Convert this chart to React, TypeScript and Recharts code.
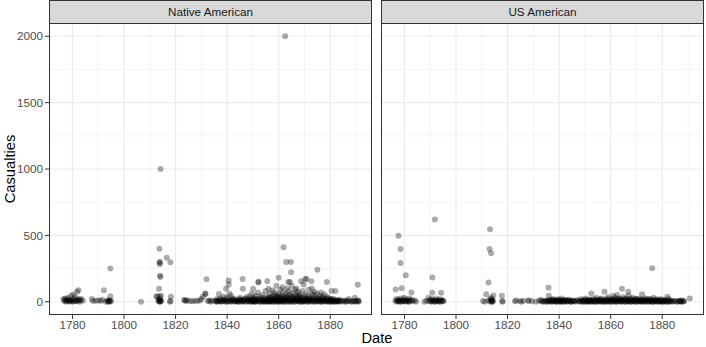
import { ScatterChart, Scatter, XAxis, YAxis, CartesianGrid } from 'recharts';

// casualties per engagement, [year, casualties]
const nativeAmerican: [number, number][] = [
  [1776.5, 20], [1777, 15], [1777.3, 25], [1777.8, 5], [1778, 10], [1778.3, 30], [1778.5, 17], [1779, 0],
  [1779.5, 45], [1779.6, 8], [1780, 12], [1780.3, 55], [1780.5, 20], [1780.8, 3], [1781, 35], [1781.3, 10],
  [1781.8, 75], [1782, 5], [1782.3, 87], [1782.5, 15], [1783, 12], [1783.5, 20], [1784, 8],
  [1776.8, 5], [1777.5, 0], [1778.8, 12], [1779.2, 5], [1780.2, 0], [1781.5, 8], [1782.2, 20], [1782.8, 0],
  [1787.5, 20], [1788, 5], [1789, 8], [1790, 10], [1791, 5], [1791.5, 15], [1792.2, 87], [1793, 0],
  [1793.5, 10], [1794, 5], [1794.4, 5], [1794.7, 42], [1794.7, 250], [1795, 8], [1793.8, 0], [1794.2, 10], [1794.6, 0],
  [1806.6, 0],
  [1812.5, 40], [1813, 42], [1813.3, 10], [1813.5, 5], [1813.6, 97], [1813.7, 400], [1813.8, 295],
  [1813.9, 282], [1813.9, 300], [1814, 195], [1814.1, 187], [1814, 37], [1814.2, 1000], [1814.3, 45],
  [1814.5, 8], [1814, 0], [1816.6, 332], [1818, 297], [1818.2, 37], [1818, 5], [1817.8, 0],
  [1813.8, 0], [1814, 12], [1814.2, 5], [1813.6, 20],
  [1823.3, 15], [1823.6, 10], [1824, 5], [1824.5, 12], [1825.5, 5], [1826.5, 3], [1827.5, 8], [1828.5, 5],
  [1829.5, 10], [1830, 20], [1830.6, 37], [1831.5, 62], [1831.6, 58], [1832, 170], [1832.5, 5], [1833, 10],
  [1833.5, 0], [1834, 8],
  [1835.2, 5], [1835.6, 12], [1835.9, 0], [1836.3, 20], [1836.8, 58], [1836.5, 3], [1837.2, 8], [1837.5, 25],
  [1837.9, 2], [1838.1, 15], [1838.6, 40], [1838.8, 5], [1839.3, 10], [1839.6, 97], [1839.9, 30], [1839.5, 0],
  [1840.2, 5], [1840.6, 160], [1840.6, 130], [1840.4, 20], [1840.9, 60], [1841.2, 0], [1841.5, 45], [1841.8, 12],
  [1842.2, 8], [1842.5, 25], [1842.9, 3], [1843.3, 15], [1843.7, 5], [1844.2, 0], [1844.6, 20], [1844.9, 10],
  [1845.1, 30], [1845.5, 2], [1845.8, 12], [1846, 172], [1846.1, 97], [1846.3, 5], [1846.7, 18], [1847.2, 0],
  [1847.5, 35], [1847.8, 10], [1848.1, 22], [1848.4, 5], [1848.8, 40], [1848.9, 0], [1849.2, 12], [1849.5, 60],
  [1849.8, 3], [1849.9, 25], [1850.1, 97], [1850.2, 8], [1850.5, 30], [1850.7, 0], [1850.9, 15], [1851.1, 45],
  [1851.3, 5], [1851.6, 20], [1851.9, 70], [1852.1, 145], [1852.2, 150], [1852.3, 10], [1852.6, 0], [1852.8, 35],
  [1853.2, 25], [1853.4, 5], [1853.7, 50], [1853.9, 12], [1854.1, 0], [1854.4, 30], [1854.7, 8], [1854.9, 80],
  [1855.2, 18], [1855.6, 155], [1855.5, 5], [1855.8, 40], [1855.9, 0], [1856.1, 97], [1856.3, 22], [1856.5, 60],
  [1856.8, 3], [1856.9, 12], [1857.1, 35], [1857.4, 0], [1857.6, 85], [1857.8, 15], [1857.9, 45], [1858.2, 8],
  [1858.4, 70], [1858.6, 25], [1858.8, 0], [1858.9, 50], [1859.1, 120], [1859.3, 10], [1859.5, 40], [1859.7, 2],
  [1859.9, 30], [1860, 180], [1860.1, 60], [1860.3, 15], [1860.5, 0], [1860.7, 90], [1860.9, 25], [1861.1, 45],
  [1861.3, 5], [1861.5, 110], [1861.7, 20], [1861.9, 410], [1861.8, 70], [1862.1, 0], [1862.3, 35], [1862.5, 2000],
  [1862.6, 12], [1862.8, 60], [1862.9, 300], [1863.1, 25], [1863.3, 100], [1863.5, 5], [1863.7, 148], [1863.8, 45],
  [1863.9, 80], [1864.1, 15], [1864.4, 148], [1864.5, 55], [1864.7, 300], [1864.8, 223], [1864.6, 0], [1864.9, 30],
  [1865.1, 120], [1865.3, 8], [1865.5, 65], [1865.7, 20], [1865.9, 40], [1866.1, 0], [1866.3, 90], [1866.5, 15],
  [1866.7, 50], [1866.9, 100], [1867.1, 30], [1867.3, 5], [1867.5, 75], [1867.7, 18], [1867.9, 45], [1868.1, 60],
  [1868.3, 10], [1868.7, 155], [1868.5, 35], [1868.9, 0], [1869.1, 25], [1869.4, 80], [1869.7, 130], [1869.6, 5],
  [1869.9, 40], [1870.3, 172], [1870.1, 12], [1870.5, 55], [1870.8, 172], [1870.9, 20], [1871.1, 0], [1871.4, 45],
  [1871.7, 90], [1871.9, 15], [1872.1, 30], [1872.4, 8], [1872.7, 155], [1872.8, 60], [1872.9, 100], [1873.1, 20],
  [1873.4, 50], [1873.7, 0], [1873.9, 75], [1874.2, 35], [1874.5, 10], [1874.8, 60], [1875, 240], [1875.2, 25],
  [1875.5, 5], [1875.8, 45], [1876.1, 15], [1876.4, 70], [1876.7, 0], [1876.9, 30], [1877.2, 40], [1877.5, 8],
  [1877.8, 55], [1878.1, 20], [1878.4, 5], [1878.7, 148], [1878.9, 35], [1879.2, 10], [1879.6, 25], [1879.9, 0],
  [1880.2, 15], [1880.5, 80], [1880.8, 5], [1881.2, 20], [1881.6, 0], [1882, 80], [1882.4, 10], [1882.8, 3],
  [1883.2, 5], [1883.6, 15], [1885.5, 0], [1886, 10], [1886.5, 5], [1887.2, 20], [1888, 2], [1889, 8],
  [1889.5, 30], [1890.2, 5], [1890.7, 128], [1891, 0], [1890.8, 10],
  [1836, 2], [1836.7, 10], [1837.4, 0], [1838.3, 6], [1839, 14], [1840, 0], [1840.8, 8], [1841.5, 3],
  [1842, 18], [1842.7, 0], [1843.5, 10], [1844, 4], [1844.5, 0], [1845.3, 15], [1846, 0], [1846.5, 8],
  [1847, 20], [1847.7, 2], [1848.3, 10], [1848.7, 15], [1849.3, 0], [1849.7, 6], [1850, 20], [1850.3, 2],
  [1850.8, 10], [1851, 0], [1851.5, 12], [1852, 4], [1852.5, 18], [1853, 0], [1853.5, 10], [1854, 15],
  [1854.3, 2], [1854.8, 8], [1855, 0], [1855.4, 22], [1855.7, 6], [1856, 12], [1856.4, 0], [1856.7, 30],
  [1857, 4], [1857.5, 18], [1858, 0], [1858.3, 12], [1858.7, 35], [1859, 6], [1859.4, 20], [1859.8, 0],
  [1860.2, 10], [1860.4, 40], [1860.8, 5], [1861, 15], [1861.4, 0], [1861.6, 28], [1862, 8], [1862.4, 18],
  [1862.7, 0], [1863, 40], [1863.4, 12], [1863.6, 0], [1864, 25], [1864.3, 6], [1864.7, 15], [1865, 0],
  [1865.2, 35], [1865.6, 10], [1866, 22], [1866.4, 0], [1866.8, 8], [1867, 15], [1867.4, 40], [1867.8, 2],
  [1868, 20], [1868.4, 0], [1868.8, 12], [1869, 5], [1869.3, 30], [1869.8, 0], [1870, 15], [1870.4, 5],
  [1870.7, 25], [1871, 10], [1871.3, 0], [1871.6, 20], [1872, 5], [1872.3, 15], [1872.6, 0], [1873, 10],
  [1873.3, 25], [1873.6, 3], [1874, 12], [1874.4, 0], [1874.7, 20], [1875, 6], [1875.4, 15], [1875.7, 0],
  [1876, 25], [1876.3, 5], [1876.6, 12], [1877, 0], [1877.3, 18], [1877.7, 5], [1878, 10], [1878.5, 0],
  [1878.8, 22], [1879, 4], [1879.4, 12], [1879.7, 0], [1880, 8], [1880.4, 20], [1880.7, 0], [1881, 10],
  [1881.4, 3], [1881.8, 15], [1882.2, 0], [1882.6, 8], [1883, 2], [1883.4, 10], [1884, 0], [1884.5, 5],
  [1885, 8], [1886.3, 0], [1887.5, 5], [1888.5, 0], [1889.2, 3], [1890, 0], [1891, 5],
];

const usAmerican: [number, number][] = [
  [1776.6, 92], [1777.7, 497], [1778.5, 397], [1778.5, 292], [1778.9, 102], [1780.5, 200], [1782.7, 70],
  [1776.5, 10], [1777, 20], [1777.3, 5], [1777.8, 15], [1778.2, 0], [1778.6, 25], [1779, 8], [1779.4, 12],
  [1779.8, 30], [1780, 3], [1780.4, 18], [1780.8, 6], [1781.2, 10], [1781.6, 2], [1781.9, 25], [1782.3, 8],
  [1782.8, 15], [1783.3, 5], [1784, 10], [1784.5, 0],
  [1776.9, 0], [1777.5, 8], [1778, 3], [1778.8, 0], [1779.6, 5], [1780.6, 0], [1781.4, 12], [1782, 0],
  [1787.8, 0], [1788.5, 8], [1789.3, 30], [1789.5, 5], [1790, 15], [1790.3, 3], [1790.8, 182], [1790.8, 67],
  [1790.6, 20], [1791, 8], [1791.4, 0], [1791.8, 620], [1791.9, 12], [1792.3, 25], [1792.7, 5], [1793.1, 10],
  [1793.5, 0], [1793.9, 18], [1794.2, 67], [1794.3, 5], [1794.7, 12], [1795.2, 3],
  [1790.2, 0], [1791.2, 10], [1792, 0], [1792.5, 5], [1793.3, 12], [1794, 0], [1794.9, 8],
  [1810.5, 5], [1811.7, 57], [1811.2, 0], [1812.6, 145], [1812.5, 10], [1813, 397], [1813.2, 547], [1813.6, 365],
  [1813.3, 20], [1813.5, 5], [1813.7, 30], [1814, 15], [1814.2, 0], [1814.5, 47], [1814.3, 8], [1817.8, 45],
  [1818, 0], [1818, 5], [1813.4, 0], [1813.8, 10], [1814, 2],
  [1822.9, 3], [1823.3, 10], [1824.8, 5], [1825.3, 0], [1826.2, 8], [1828, 5], [1828.3, 12], [1829.5, 3],
  [1831, 0], [1832.2, 8], [1832.9, 15], [1833.2, 3], [1834, 5], [1834.5, 0], [1835.2, 10], [1835.9, 105],
  [1836, 45], [1835.7, 2], [1836.4, 15], [1836.8, 5], [1837.2, 0], [1837.5, 20], [1837.9, 8], [1838.3, 3],
  [1838.6, 12], [1839, 0], [1839.4, 18], [1839.8, 5], [1840.2, 10], [1840.6, 2], [1841, 25], [1841.4, 8],
  [1841.8, 0], [1842.3, 12], [1842.8, 3], [1843.2, 8], [1843.8, 15], [1844.3, 0], [1844.8, 5], [1845.5, 10],
  [1846.2, 3], [1847.5, 8], [1848, 0], [1848.5, 20], [1849, 5], [1849.5, 12], [1850, 0], [1850.4, 25],
  [1850.8, 8], [1851.2, 3], [1851.6, 15], [1852, 0], [1852.5, 62], [1852.4, 10], [1852.9, 5], [1853.3, 20],
  [1853.7, 0], [1854.1, 12], [1854.5, 30], [1854.9, 3], [1855.3, 8], [1855.7, 18], [1856.1, 0], [1856.5, 25],
  [1856.9, 5], [1857.3, 12], [1857.6, 75], [1857.8, 0], [1858.2, 20], [1858.6, 8], [1859, 35], [1859.4, 3],
  [1859.8, 15], [1860.2, 0], [1860.6, 22], [1861, 45], [1861, 10], [1861.4, 5], [1861.8, 30], [1862.2, 0],
  [1862.6, 50], [1862.5, 15], [1863, 8], [1863.4, 25], [1863.8, 2], [1864.2, 18], [1864.4, 97], [1864.6, 5],
  [1865, 35], [1865.4, 0], [1865.8, 12], [1866.2, 25], [1866.8, 75], [1866.6, 3], [1867, 45], [1867, 15],
  [1867.4, 0], [1867.8, 22], [1868.2, 8], [1868.6, 30], [1869, 5], [1869.4, 15], [1869.8, 0], [1870.2, 20],
  [1870.6, 8], [1871, 25], [1871.4, 3], [1871.8, 12], [1872.2, 57], [1872.2, 0], [1872.6, 18], [1873, 5],
  [1873.4, 25], [1873.8, 10], [1874.2, 0], [1874.6, 15], [1875, 3], [1875.4, 20], [1875.8, 8], [1876.1, 252],
  [1876.2, 0], [1876.6, 30], [1877, 12], [1877.4, 5], [1877.8, 18], [1878.2, 0], [1878.6, 10], [1879, 3],
  [1879.4, 20], [1879.8, 8], [1880.2, 0], [1880.6, 15], [1881, 5], [1881.5, 10], [1882, 37], [1882, 0],
  [1882.5, 20], [1883, 8], [1883.5, 3], [1884.5, 5], [1885.5, 0], [1886.5, 8], [1887, 3], [1887.5, 12],
  [1888, 0], [1888.5, 5], [1890.7, 25],
  [1833.5, 0], [1834.8, 8], [1835.5, 0], [1836, 5], [1836.6, 12], [1837, 0], [1837.7, 5], [1838, 15],
  [1838.8, 0], [1839.2, 8], [1839.6, 2], [1840, 15], [1840.4, 0], [1840.8, 5], [1841.2, 12], [1841.6, 0],
  [1842, 6], [1842.5, 15], [1843, 0], [1843.5, 5], [1844, 10], [1844.6, 2], [1845, 0], [1845.8, 6],
  [1846.5, 0], [1847, 12], [1848.2, 5], [1848.8, 2], [1849.2, 0], [1849.8, 15], [1850.2, 5], [1850.6, 0],
  [1851, 10], [1851.4, 0], [1851.8, 5], [1852.2, 15], [1852.7, 0], [1853, 8], [1853.5, 3], [1854, 0],
  [1854.3, 15], [1854.7, 5], [1855, 0], [1855.5, 12], [1856, 5], [1856.3, 15], [1856.7, 0], [1857, 8],
  [1857.5, 2], [1858, 12], [1858.4, 0], [1858.8, 5], [1859.2, 18], [1859.6, 0], [1860, 8], [1860.4, 12],
  [1860.8, 0], [1861.2, 15], [1861.6, 2], [1862, 8], [1862.4, 0], [1862.8, 20], [1863.2, 5], [1863.6, 12],
  [1864, 0], [1864.4, 8], [1864.8, 15], [1865.2, 2], [1865.6, 20], [1866, 0], [1866.4, 8], [1866.9, 12],
  [1867.2, 5], [1867.6, 0], [1868, 15], [1868.4, 2], [1868.8, 10], [1869.2, 0], [1869.6, 20], [1870, 5],
  [1870.4, 0], [1870.8, 12], [1871.2, 8], [1871.6, 0], [1872, 15], [1872.4, 5], [1872.8, 0], [1873.2, 12],
  [1873.6, 2], [1874, 8], [1874.4, 20], [1874.8, 0], [1875.2, 10], [1875.6, 2], [1876, 15], [1876.4, 0],
  [1876.8, 8], [1877.2, 0], [1877.6, 10], [1878, 5], [1878.4, 15], [1878.8, 0], [1879.2, 8], [1879.6, 0],
  [1880, 10], [1880.4, 3], [1880.8, 0], [1881.3, 12], [1881.8, 0], [1882.3, 5], [1882.8, 0], [1883.3, 10],
  [1884, 0], [1885, 5], [1886, 0], [1886.8, 5], [1887.3, 0], [1888.2, 3],
];

const xTicks = [1780, 1800, 1820, 1840, 1860, 1880];
const xMinor = [1790, 1810, 1830, 1850, 1870, 1890];
const yTicks = [0, 500, 1000, 1500, 2000];
const yMinor = [250, 750, 1250, 1750];

const FONT = '"Liberation Sans", Arial, Helvetica, sans-serif';

const Dot = (props: any) => (
  <circle cx={props.cx} cy={props.cy} r={3} fill="#000" fillOpacity={0.33} />
);

const Panel = ({ title, data, showY, width, margin, left }: any) => {
  const rows = data.map(([date, casualties]: [number, number]) => ({ date, casualties }));
  const plotLeft = left + margin.left + (showY ? 49 : 0);
  const plotRight = left + width - margin.right;
  return (
    <>
      <div style={{ position: 'absolute', left, top: 0 }}>
        <ScatterChart width={width} height={347} margin={margin}>
          <CartesianGrid stroke="#EBEBEB" strokeWidth={0.55} verticalValues={xMinor} horizontalValues={yMinor} fill="#fff" />
          <CartesianGrid stroke="#EBEBEB" strokeWidth={1.1} verticalValues={xTicks} horizontalValues={yTicks} />
          <XAxis
            type="number"
            dataKey="date"
            domain={[1770.9, 1896.2]}
            ticks={xTicks}
            allowDataOverflow
            axisLine={false}
            tickLine={{ stroke: '#333', strokeWidth: 1 }}
            tickSize={4}
            tickMargin={2}
            height={20}
            tick={{ fill: '#4D4D4D', fontSize: 11.7, fontFamily: FONT }}
          />
          <YAxis
            type="number"
            dataKey="casualties"
            domain={[-100, 2100]}
            ticks={yTicks}
            allowDataOverflow
            hide={!showY}
            width={49}
            axisLine={false}
            tickLine={{ stroke: '#333', strokeWidth: 1 }}
            tickSize={4}
            tickMargin={2}
            tick={{ fill: '#4D4D4D', fontSize: 11.7, fontFamily: FONT }}
          />
          <Scatter data={rows} shape={Dot} isAnimationActive={false} />
        </ScatterChart>
      </div>
      <div style={{ position: 'absolute', left: plotLeft, top: 23, width: plotRight - plotLeft, height: 292, border: '1px solid #333', boxSizing: 'border-box', pointerEvents: 'none' }} />
      <div style={{ position: 'absolute', left: plotLeft, top: 0, width: plotRight - plotLeft, height: 24, background: '#D9D9D9', border: '1px solid #333', boxSizing: 'border-box', fontFamily: FONT, fontSize: 11.7, color: '#1A1A1A', textAlign: 'center', lineHeight: '22px' }}>
        {title}
      </div>
    </>
  );
};

export default function App() {
  return (
    <div style={{ position: 'absolute', left: 0, top: 0, width: 706, height: 347, background: '#fff', overflow: 'hidden' }}>
      <Panel title="Native American" data={nativeAmerican} showY width={376} left={0} margin={{ top: 23, right: 4, bottom: 12, left: 0 }} />
      <Panel title="US American" data={usAmerican} showY={false} width={330} left={376} margin={{ top: 23, right: 2, bottom: 12, left: 5 }} />
      <div style={{ position: 'absolute', left: 10, top: 169, transform: 'translate(-50%, -50%) rotate(-90deg)', fontFamily: FONT, fontSize: 14.7, whiteSpace: 'nowrap' }}>
        Casualties
      </div>
      <div style={{ position: 'absolute', left: 377, top: 338, transform: 'translate(-50%, -50%)', fontFamily: FONT, fontSize: 14.7 }}>
        Date
      </div>
    </div>
  );
}
